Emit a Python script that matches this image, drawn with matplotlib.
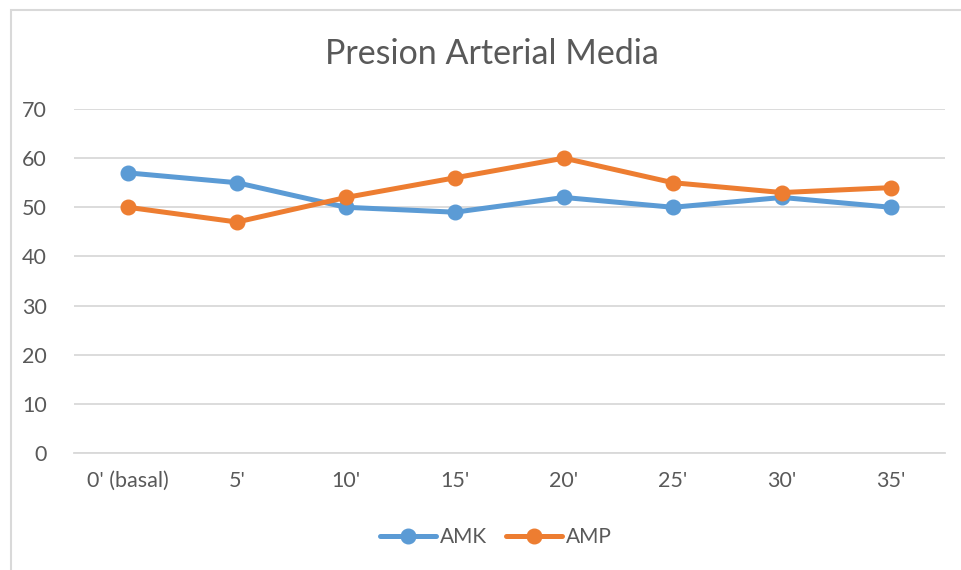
import matplotlib
matplotlib.use("Agg")
import matplotlib.pyplot as plt
from matplotlib.patches import Rectangle

# Data
categories = ["0' (basal)", "5'", "10'", "15'", "20'", "25'", "30'", "35'"]
amk = [57, 55, 50, 49, 52, 50, 52, 50]
amp = [50, 47, 52, 56, 60, 55, 53, 54]
y_ticks = [0, 10, 20, 30, 40, 50, 60, 70]

plt.rcParams["font.family"] = ["Lato", "DejaVu Sans"]

fig = plt.figure(figsize=(9.62, 5.70), dpi=100)
ax = fig.add_axes([73.5 / 962, 1 - 453 / 570, 872 / 962, 344 / 570])

# chart border (Excel-style frame)
fig.patches.append(Rectangle((11 / 962, -0.05), 1.0, 1 - 10 / 570 + 0.05,
                             transform=fig.transFigure, fill=False,
                             edgecolor="#D9D9D9", linewidth=1.5))

x = range(len(categories))
ax.plot(x, amk, color="#5B9BD5", linewidth=3.6, marker="o", markersize=10.5,
        label="AMK", solid_capstyle="round", zorder=3)
ax.plot(x, amp, color="#ED7D31", linewidth=3.6, marker="o", markersize=10.5,
        label="AMP", solid_capstyle="round", zorder=4)

ax.set_xlim(-0.5, len(categories) - 0.5)
ax.set_ylim(0, 70)
ax.set_yticks(y_ticks)
ax.set_xticks(list(x))
ax.set_xticklabels(categories)
ax.grid(axis="y", color="#D9D9D9", linewidth=1.3)
ax.set_axisbelow(True)
for s in ["top", "right", "left"]:
    ax.spines[s].set_visible(False)
ax.spines["bottom"].set_color("#D9D9D9")
ax.spines["bottom"].set_linewidth(1.3)
ax.tick_params(axis="both", length=0, labelsize=15.5, labelcolor="#595959")
ax.tick_params(axis="x", pad=13)
ax.tick_params(axis="y", pad=19)

fig.text(492 / 962, 1 - 54 / 570, "Presion Arterial Media", ha="center",
         va="center", fontsize=24.5, color="#595959")

fig.legend(loc="center", bbox_to_anchor=(496 / 962, 1 - 537 / 570), ncol=2,
           frameon=False, fontsize=15, labelcolor="#595959",
           handlelength=2.7, handletextpad=0.2, columnspacing=0.9)

fig.savefig("out.png", dpi=100)
